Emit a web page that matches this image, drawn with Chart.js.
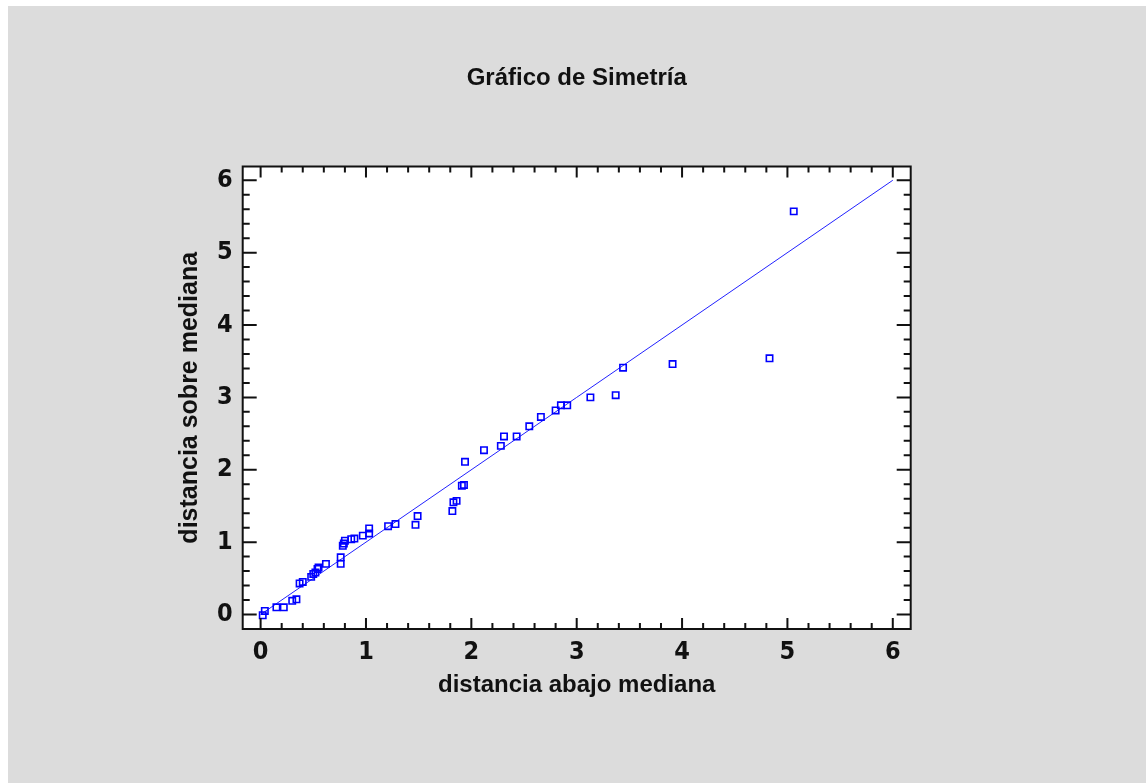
<!DOCTYPE html>
<html>
<head>
<meta charset="utf-8">
<script src="https://cdn.jsdelivr.net/npm/chart.js@4.4.0/dist/chart.umd.min.js"></script>
<style>
  html, body { margin: 0; padding: 0; background: #ffffff; overflow: hidden; }
  #grafico { position: absolute; left: 8px; top: 6px; background: #dcdcdc; }
</style>
</head>
<body>
<canvas id="grafico" width="1138" height="777"></canvas>
<script>
        // distancias (abajo / sobre la mediana)
        let abajo = [0.02, 0.04, 0.15, 0.22, 0.30, 0.34, 0.37, 0.40, 0.48, 0.50,
                     0.52, 0.54, 0.55, 0.62, 0.76, 0.76, 0.78, 0.79, 0.80, 0.86,
                     0.89, 0.97, 1.03, 1.03, 1.21, 1.28, 1.47, 1.49, 1.82, 1.83,
                     1.86, 1.91, 1.93, 1.94, 2.12, 2.28, 2.31, 2.43, 2.55, 2.66,
                     2.80, 2.85, 2.91, 3.13, 3.37, 3.44, 3.91, 4.83, 5.06];
        let sobre = [-0.01, 0.05, 0.10, 0.10, 0.19, 0.21, 0.43, 0.45, 0.52, 0.56,
                     0.58, 0.63, 0.65, 0.70, 0.70, 0.79, 0.95, 0.98, 1.02, 1.04,
                     1.05, 1.09, 1.12, 1.19, 1.22, 1.25, 1.24, 1.36, 1.43, 1.55,
                     1.57, 1.78, 1.79, 2.11, 2.27, 2.33, 2.46, 2.46, 2.60, 2.73,
                     2.82, 2.89, 2.89, 3.00, 3.03, 3.41, 3.46, 3.54, 5.57];
        let lineaX = [0, 6];
        let lineaY = [0, 6];
        let ticksX = [0, 1, 2, 3, 4, 5, 6];
        let ticksY = [0, 1, 2, 3, 4, 5, 6];

        let puntos = [];
        for (i = 0; i < abajo.length; i++) {
            puntos.push({x: abajo[i], y: sobre[i]});
        }
        let linea = [];
        for (i = 0; i < lineaX.length; i++) {
            linea.push({x: lineaX[i], y: lineaY[i]});
        }

        const fuenteTicks = {family: '"Liberation Sans Narrow", "Arial Narrow", "DejaVu Sans Condensed", sans-serif', size: 25, weight: 'bold', lineHeight: 1};

        // marco y marcas hacia dentro, como en el original
        const marco = {
            id: 'marco',
            beforeDraw(chart) {
                const ctx = chart.ctx, a = chart.chartArea;
                ctx.save();
                ctx.fillStyle = '#ffffff';
                ctx.fillRect(a.left, a.top, a.right - a.left, a.bottom - a.top);
                ctx.restore();
            },
            afterDraw(chart) {
                const ctx = chart.ctx, a = chart.chartArea;
                const sx = chart.scales.x, sy = chart.scales.y;
                ctx.save();
                ctx.strokeStyle = '#111111';
                ctx.lineWidth = 2;
                ctx.beginPath();
                for (let v = -0.2; v <= 6.21; v += 0.2) {
                    const r = Math.round(v * 10) / 10;
                    const mayor = Math.abs(r - Math.round(r)) < 0.01;
                    const px = sx.getPixelForValue(r);
                    if (px > a.left + 1 && px < a.right - 1) {
                        const l = mayor ? 11 : 6;
                        ctx.moveTo(px, a.bottom); ctx.lineTo(px, a.bottom - l);
                        ctx.moveTo(px, a.top); ctx.lineTo(px, a.top + l);
                    }
                    const py = sy.getPixelForValue(r);
                    if (py > a.top + 1 && py < a.bottom - 1) {
                        const l = mayor ? 14 : 7;
                        ctx.moveTo(a.left, py); ctx.lineTo(a.left + l, py);
                        ctx.moveTo(a.right, py); ctx.lineTo(a.right - l, py);
                    }
                }
                ctx.stroke();
                ctx.strokeRect(a.left, a.top, a.right - a.left, a.bottom - a.top);
                ctx.fillStyle = '#111111';
                ctx.font = 'bold 24px "Liberation Sans", Arial, sans-serif';
                ctx.textAlign = 'center';
                ctx.textBaseline = 'middle';
                ctx.fillText('Gráfico de Simetría', (a.left + a.right) / 2, 72);
                ctx.restore();
            }
        };

        window.onload = function() {
            var ctxG = document.getElementById('grafico').getContext('2d');
            var grafico = new Chart(ctxG, {
                type: 'scatter',
                data: {
                    datasets: [{
                        data: puntos,
                        pointStyle: 'rect',
                        pointRadius: 4.5,
                        pointHoverRadius: 4.5,
                        borderColor: '#0000ff',
                        backgroundColor: 'rgba(0,0,0,0)',
                        borderWidth: 1.6
                    },
                    {
                        type: 'line',
                        data: linea,
                        borderColor: '#2222ff',
                        borderWidth: 1,
                        pointRadius: 0,
                        fill: false
                    }]
                },
                options: {
                    responsive: false,
                    animation: false,
                    devicePixelRatio: 1,
                    layout: {padding: {left: 0, right: 235.3, top: 160.5, bottom: 0}},
                    plugins: {legend: {display: false}, tooltip: {enabled: false}, title: {display: false}},
                    scales: {
                        x: {
                            type: 'linear',
                            min: -0.17,
                            max: 6.17,
                            afterBuildTicks: function(s) { s.ticks = ticksX.map(v => ({value: v})); },
                            afterFit: function(s) { s.height = 154; },
                            grid: {display: false, drawTicks: false},
                            border: {display: false},
                            ticks: {includeBounds: false, padding: 11, color: '#111111', font: fuenteTicks, maxRotation: 0, autoSkip: false},
                            title: {display: true, text: 'distancia abajo mediana', color: '#111111',
                                    font: {family: '"Liberation Sans", Arial, sans-serif', size: 24, weight: 'bold', lineHeight: 1},
                                    padding: {top: 0, bottom: 86}}
                        },
                        y: {
                            type: 'linear',
                            min: -0.2,
                            max: 6.19,
                            afterBuildTicks: function(s) { s.ticks = ticksY.map(v => ({value: v})); },
                            afterFit: function(s) { s.width = 234.7; },
                            grid: {display: false, drawTicks: false},
                            border: {display: false},
                            ticks: {includeBounds: false, padding: 10, color: '#111111', font: fuenteTicks, autoSkip: false},
                            title: {display: true, text: 'distancia sobre mediana', color: '#111111',
                                    font: {family: '"Liberation Sans", Arial, sans-serif', size: 25, weight: 'bold', lineHeight: 1},
                                    padding: {top: 170, bottom: 0}}
                        }
                    }
                },
                plugins: [marco]
            });
        }
</script>
</body>
</html>
